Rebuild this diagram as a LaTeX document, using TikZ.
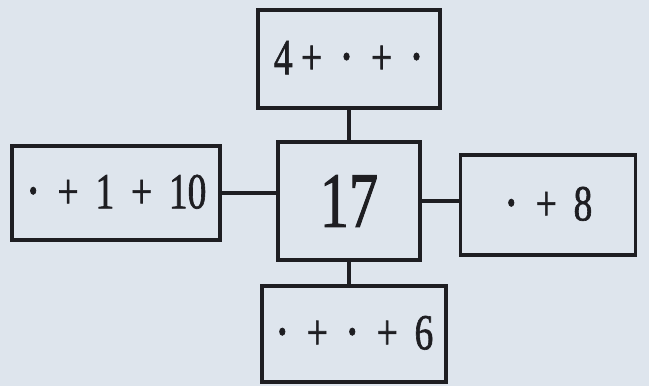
\documentclass[tikz,border=0pt]{standalone}
\usepackage{fontspec}
\newfontfamily\caixafont{Liberation Serif}[FakeStretch=0.74, FakeBold=1.2]
\usetikzlibrary{calc}
\definecolor{paper}{RGB}{222,229,237}
\definecolor{tinta}{RGB}{30,30,34}
\newcommand{\gp}{\hspace{0.42cm}}
\newcommand{\pnt}{{\fontsize{44}{44}\selectfont\raisebox{-0.07cm}{·}}}

\begin{document}
\begin{tikzpicture}[
    caixa/.style={draw=tinta, line width=2.4pt, inner sep=0pt, text=tinta,
        font=\caixafont\fontsize{36}{38}\selectfont},
    enllac/.style={draw=tinta, line width=2.2pt}]

% ---- FONS ----
\fill[paper] (0,0) rectangle (16.225,-9.65);
\useasboundingbox (0,0) rectangle (16.225,-9.65);

% ---- CAIXES ----
\node[caixa, minimum width=4.55cm, minimum height=2.45cm] (dalt) at (8.725,-1.475) {4\,+\gp\pnt\gp+\gp\pnt};
\node[caixa, minimum width=5.2cm, minimum height=2.35cm] (esq) at (2.9,-4.825) {\pnt\gp+\gp1\gp+\gp10};
\node[caixa, minimum width=3.55cm, minimum height=2.95cm,
    font=\caixafont\fontsize{56}{60}\selectfont] (mig) at (8.725,-5.025) {17};
\node[caixa, minimum width=4.375cm, minimum height=2.5cm] (dreta) at (13.7,-5.125) {\pnt\gp+\gp8};
\node[caixa, minimum width=4.6cm, minimum height=2.4cm] (baix) at (8.85,-8.35) {\pnt\gp+\gp\pnt\gp+\gp6};

% ---- ENLLAÇOS ----
\draw[enllac] (dalt.south) -- (dalt.south |- mig.north);
\draw[enllac] (esq.east) -- (esq.east -| mig.west);
\draw[enllac] (mig.east) -- (mig.east -| dreta.west);
\draw[enllac] (mig.south) -- (mig.south |- baix.north);

\end{tikzpicture}
\end{document}
